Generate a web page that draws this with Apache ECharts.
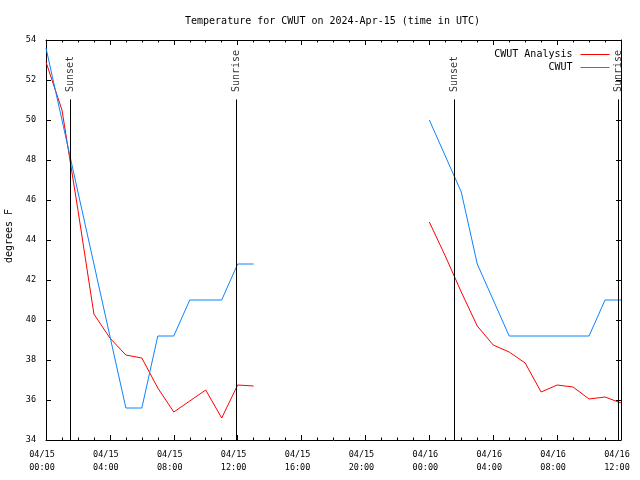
<!DOCTYPE html>
<html>
<head>
<meta charset="utf-8">
<script src="https://cdn.jsdelivr.net/npm/echarts@6/dist/echarts.min.js"></script>
<style>html,body{margin:0;padding:0;background:#fff}#c{width:640px;height:480px}</style>
</head>
<body>
<div id="c"></div>
<script>
// Hours since 2024-04-15 00:00 UTC
const hours = [0,1,2,3,4,5,6,7,8,9,10,11,12,13,14,15,16,17,18,19,20,21,22,23,24,25,26,27,28,29,30,31,32,33,34,35,36];
const analysisF = [52.9,50.5,45.5,40.3,39.1,38.25,38.1,36.6,35.4,35.95,36.5,35.1,36.75,36.7,
  null,null,null,null,null,null,null,null,null,null,
  44.9,43.2,41.4,39.7,38.75,38.4,37.85,36.4,36.75,36.65,36.05,36.15,35.85];
const observedF = [53.6,50.0,46.4,42.8,39.2,35.6,35.6,39.2,39.2,41.0,41.0,41.0,42.8,42.8,
  null,null,null,null,null,null,null,null,null,null,
  50.0,48.2,46.4,42.8,41.0,39.2,39.2,39.2,39.2,39.2,39.2,41.0,41.0];
const xTickLabels = ['04/15\n00:00','04/15\n04:00','04/15\n08:00','04/15\n12:00','04/15\n16:00',
  '04/15\n20:00','04/16\n00:00','04/16\n04:00','04/16\n08:00','04/16\n12:00'];
const sunTimes = [1.52, 11.93, 25.56, 35.84];
const sunNames = ['Sunset','Sunrise','Sunset','Sunrise'];
const seriesNames = ['CWUT Analysis','CWUT'];

// styling constants
const FONT = 'DejaVu Sans Mono';
const sunLineTop = 51.03;
const sunLabelY = 51.4;

const chart = echarts.init(document.getElementById('c'), null, {renderer:'canvas'});
const pair = (vals) => hours.map((h,i) => [h, vals[i] === null ? '-' : vals[i]]);

const xBase = {
  type:'value', min:0, max:36, interval:4,
  axisLine:{show:true, onZero:false, lineStyle:{color:'#000', width:1}},
  axisTick:{show:true, inside:true, length:5, lineStyle:{color:'#000'}},
  minorTick:{show:true, splitNumber:4, length:2.5, lineStyle:{color:'#000'}},
  splitLine:{show:false}, minorSplitLine:{show:false}
};
const yBase = {
  type:'value', min:34, max:54, interval:2,
  axisLine:{show:true, onZero:false, lineStyle:{color:'#000', width:1}},
  axisTick:{show:true, inside:true, length:5, lineStyle:{color:'#000'}},
  splitLine:{show:false}
};
const legendCommon = {orient:'vertical', align:'right', itemWidth:29, itemHeight:10, selectedMode:false,
  itemStyle:{color:'rgba(0,0,0,0)', borderColor:'rgba(0,0,0,0)', borderWidth:0, opacity:0},
  lineStyle:{width:1},
  textStyle:{fontFamily:FONT, fontSize:10, color:'#000', padding:[0,3,0,0]}};

chart.setOption({
  backgroundColor:'#fff',
  animation:false,
  title:{
    text:'Temperature for CWUT on 2024-Apr-15 (time in UTC)',
    left:327.5, top:11, textAlign:'center',
    textStyle:{fontFamily:FONT, fontSize:10, fontWeight:'normal', color:'#000'}
  },
  legend:[
    Object.assign({data:[seriesNames[0]], right:25, top:44.5}, legendCommon),
    Object.assign({data:[seriesNames[1]], right:25, top:57.5}, legendCommon)
  ],
  grid:{left:46, right:19, top:40, bottom:40, containLabel:false, outerBoundsMode:'none'},
  xAxis:[
    Object.assign({}, xBase, {position:'bottom',
      axisLabel:{show:true, margin:8, fontFamily:FONT, fontSize:8.5, color:'#000', lineHeight:13,
        padding:[0,8,0,0], formatter:(v)=>xTickLabels[Math.round(v/4)]}}),
    Object.assign({}, xBase, {position:'top', axisLabel:{show:false}})
  ],
  yAxis:[
    Object.assign({}, yBase, {position:'left',
      name:'degrees F', nameLocation:'middle', nameRotate:90, nameGap:31,
      nameTextStyle:{fontFamily:FONT, fontSize:10, color:'#000', padding:[0,0,0,8]},
      axisLabel:{show:true, margin:10, fontFamily:FONT, fontSize:8.5, color:'#000'}}),
    Object.assign({}, yBase, {position:'right', axisLabel:{show:false}})
  ],
  series:[
    {name:seriesNames[0], type:'line', data:pair(analysisF), showSymbol:false, symbol:'none',
     connectNulls:false, lineStyle:{color:'#ff0000', width:1}, itemStyle:{color:'#ff0000'}, z:3},
    {name:seriesNames[1], type:'line', data:pair(observedF), showSymbol:false, symbol:'none',
     connectNulls:false, lineStyle:{color:'#0a84ff', width:1}, itemStyle:{color:'#0a84ff'}, z:4},
    {name:'sun', type:'scatter', symbolSize:0, silent:true, z:5,
     data: sunTimes.map((t,i)=>({name:sunNames[i], value:[t, sunLabelY]})),
     label:{show:true, formatter:'{b}', position:'inside', rotate:90, align:'left', verticalAlign:'middle',
       fontFamily:FONT, fontSize:10, color:'#000'},
     markLine:{silent:true, symbol:['none','none'], label:{show:false},
       lineStyle:{color:'#000', width:1, type:'solid'},
       data: sunTimes.map(t=>[{coord:[t,34]},{coord:[t,sunLineTop]}])}
    }
  ]
});
</script>
</body>
</html>
